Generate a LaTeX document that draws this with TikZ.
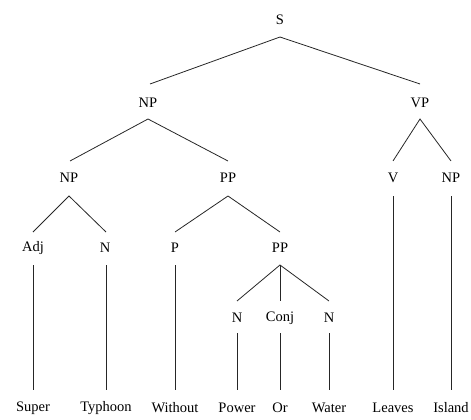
\documentclass[tikz,border=0pt]{standalone}
\usepackage{fontspec}
\setmainfont{Liberation Serif}
\begin{document}
\begin{tikzpicture}[x=1pt,y=-1pt,
  lbl/.style={font=\fontsize{14.5}{16}\selectfont, inner sep=0pt, anchor=center},
  edge/.style={line width=0.8pt, draw=black!85}]
\useasboundingbox (0,0) rectangle (471,420);
% labels
\node[lbl] (S) at (280,20) {S};
\node[lbl] (NP1) at (148,103) {NP};
\node[lbl] (VP) at (420,103) {VP};
\node[lbl] (NP2) at (69,178) {NP};
\node[lbl] (PP1) at (228,178) {PP};
\node[lbl] (V) at (393,178) {V};
\node[lbl] (NP3) at (451,178) {NP};
\node[lbl] (Adj) at (33,248) {Adj};
\node[lbl] (N1) at (105,248) {N};
\node[lbl] (P) at (175,248) {P};
\node[lbl] (PP2) at (280,248) {PP};
\node[lbl] (N2) at (237,318) {N};
\node[lbl] (Conj) at (280,318) {Conj};
\node[lbl] (N3) at (329,318) {N};
\node[lbl] (w1) at (33,408) {Super};
\node[lbl] (w2) at (106,408) {Typhoon};
\node[lbl] (w3) at (175,408) {Without};
\node[lbl] (w4) at (237,408) {Power};
\node[lbl] (w5) at (280,408) {Or};
\node[lbl] (w6) at (329,408) {Water};
\node[lbl] (w7) at (393,408) {Leaves};
\node[lbl] (w8) at (451,408) {Island};
% anchor coordinates
\coordinate (Sb) at (280,37);
\coordinate (NP1t) at (150,84);
\coordinate (VPt) at (420,84);
\coordinate (NP1b) at (148,119);
\coordinate (NP2t) at (70,161);
\coordinate (PP1t) at (228,161);
\coordinate (VPb) at (420,119);
\coordinate (Vt) at (393,161);
\coordinate (NP3t) at (451,161);
\coordinate (NP2b) at (69,196);
\coordinate (Adjt) at (33,232);
\coordinate (N1t) at (106,232);
\coordinate (PP1b) at (228,196);
\coordinate (Pt) at (175,232);
\coordinate (PP2t) at (280,232);
\coordinate (Adjb) at (33,265);
\coordinate (N1b) at (106,265);
\coordinate (Pb) at (175,265);
\coordinate (Vb) at (393,196);
\coordinate (NP3b) at (451,196);
\coordinate (PP2b) at (280,265);
\coordinate (N2t) at (237,301);
\coordinate (Conjt) at (280,301);
\coordinate (N3t) at (329,301);
\coordinate (N2b) at (237,333);
\coordinate (Conjb) at (280,333);
\coordinate (N3b) at (329,333);
\coordinate (w1t) at (33,390);
\coordinate (w2t) at (106,390);
\coordinate (w3t) at (175,390);
\coordinate (w4t) at (237,390);
\coordinate (w5t) at (280,390);
\coordinate (w6t) at (329,390);
\coordinate (w7t) at (393,390);
\coordinate (w8t) at (451,390);
% edges
\draw[edge] (NP1t) -- (Sb) -- (VPt);
\draw[edge] (NP2t) -- (NP1b) -- (PP1t);
\draw[edge] (Vt) -- (VPb) -- (NP3t);
\draw[edge] (Adjt) -- (NP2b) -- (N1t);
\draw[edge] (Pt) -- (PP1b) -- (PP2t);
\draw[edge] (N2t) -- (PP2b) -- (N3t);
\draw[edge] (PP2b) -- (Conjt);
\draw[edge] (Adjb) -- (w1t);
\draw[edge] (N1b) -- (w2t);
\draw[edge] (Pb) -- (w3t);
\draw[edge] (Vb) -- (w7t);
\draw[edge] (NP3b) -- (w8t);
\draw[edge] (N2b) -- (w4t);
\draw[edge] (Conjb) -- (w5t);
\draw[edge] (N3b) -- (w6t);
\end{tikzpicture}
\end{document}
